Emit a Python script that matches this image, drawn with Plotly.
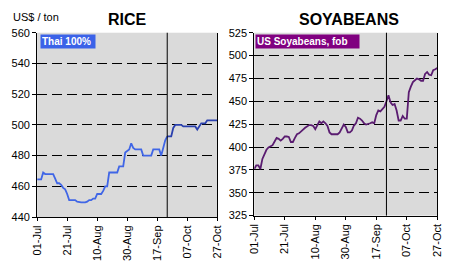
import plotly.graph_objects as go

# ---- data ----
tick_labels = ["01-Jul", "21-Jul", "10-Aug", "30-Aug", "17-Sep", "07-Oct", "27-Oct"]
tick_step = 15  # observations between labels
divider_index = 65  # observation where the vertical marker sits

rice_thai100 = [
    464.5, 464.5, 464.5, 469, 468, 468, 468, 468, 468, 465,
    462, 462, 461, 459, 458, 455, 451, 451, 451, 451,
    450, 449.5, 449.5, 449.5, 449.5, 450, 451, 451, 452, 452,
    455, 455, 455, 457, 460, 460, 469, 469, 469, 469,
    469, 473, 473, 473, 482, 483, 484, 488, 485, 484,
    484, 484, 484, 480, 480, 480, 480, 480, 484, 484,
    484, 484, 480, 485, 490, 492.5, 492.5, 492.5, 498, 500,
    500, 500, 500, 499, 499, 499, 499, 499, 499, 499,
    497, 499, 501, 501, 501, 503, 503, 503, 503, 503,
    503,
]
soy_us_fob = [
    376, 380, 380, 376, 387, 392, 397, 399.5, 401, 402,
    406, 410, 409, 407, 409, 411.5, 411.5, 411, 405.5, 405.5,
    410, 414, 415, 417.5, 419, 421, 423, 424, 424, 423,
    419.5, 424, 428, 426, 428, 426, 423, 416, 414, 414,
    414, 414, 416, 419.5, 424.5, 422, 416, 416, 418, 423.5,
    426, 432, 431, 429, 426, 424.5, 425, 426, 427, 426,
    435, 440, 439, 442, 444, 450, 456.5, 449, 446, 447,
    440, 429, 429, 434, 431, 431, 460, 466, 471, 473,
    475, 474, 472.5, 472.5, 480, 482, 479, 478.5, 484, 485,
    486.5,
]

x = list(range(len(rice_thai100)))
tickvals = [i * tick_step for i in range(len(tick_labels))]

W, H = 454, 266
FONT = "Arial, Liberation Sans, sans-serif"

fig = go.Figure()
fig.add_trace(go.Scatter(x=x[:divider_index + 1], y=rice_thai100[:divider_index + 1],
                         mode="lines", line=dict(color="#4066e6", width=1.8),
                         xaxis="x", yaxis="y", hoverinfo="skip"))
fig.add_trace(go.Scatter(x=x[divider_index:], y=rice_thai100[divider_index:],
                         mode="lines", line=dict(color="#2a40ae", width=1.8),
                         xaxis="x", yaxis="y", hoverinfo="skip"))
fig.add_trace(go.Scatter(x=x, y=soy_us_fob, mode="lines",
                         line=dict(color="#5a1c70", width=1.8),
                         xaxis="x2", yaxis="y2", hoverinfo="skip"))

def xax(dom, anchor):
    return dict(domain=dom, anchor=anchor, range=[0, len(x) - 1],
                tickvals=tickvals, ticktext=tick_labels, tickangle=-90,
                showgrid=False, zeroline=False, showline=True,
                linecolor="black", linewidth=1, ticks="outside", ticklen=3,
                tickcolor="black", tickfont=dict(size=11, color="black", family=FONT))

def yax(dom, anchor, rng, dt):
    return dict(domain=dom, anchor=anchor, range=rng, dtick=dt, tick0=rng[0],
                showgrid=True, gridcolor="black", griddash="10px,5px", gridwidth=1,
                zeroline=False, showline=True, mirror=True, linecolor="black",
                linewidth=1, ticks="outside", ticklen=4, tickcolor="black",
                tickfont=dict(size=11, color="black", family=FONT))

fig.update_layout(
    width=W, height=H, margin=dict(l=0, r=0, t=0, b=0),
    paper_bgcolor="white", plot_bgcolor="#dadada", showlegend=False,
    xaxis=xax([32 / W, 217 / W], "y"),
    yaxis=yax([1 - 221 / H, 1 - 28 / H], "x", [440, 560], 20),
    xaxis2=xax([255 / W, 443 / W], "y2"),
    yaxis2=yax([1 - 219.5 / H, 1 - 28 / H], "x2", [325, 525], 25),
)

for xr, yr in (("x", "y domain"), ("x2", "y2 domain")):
    fig.add_shape(type="line", xref=xr, yref=yr, x0=divider_index, x1=divider_index,
                  y0=0, y1=1, line=dict(color="black", width=1))

ann = [
    dict(text="<b>RICE</b>", x=125 / W, y=1 - 14 / H, size=16),
    dict(text="<b>SOYABEANS</b>", x=352 / W, y=1 - 14 / H, size=16),
]
for a in ann:
    fig.add_annotation(text=a["text"], x=a["x"], y=a["y"], xref="paper", yref="paper",
                       showarrow=False, xanchor="center", yanchor="middle",
                       font=dict(size=a["size"], color="black", family=FONT))
fig.add_annotation(text="US$ / ton", x=5 / W, y=1 - 12 / H, xref="paper", yref="paper",
                   showarrow=False, xanchor="left", yanchor="middle",
                   font=dict(size=11, color="black", family=FONT))
fig.add_annotation(text="<b>Thai 100%</b>", x=35 / W, y=1 - 37.5 / H, xref="paper",
                   yref="paper", showarrow=False, xanchor="left", yanchor="middle",
                   bgcolor="#3b62e8", borderpad=1, width=52, align="left",
                   font=dict(size=10, color="white", family=FONT))
fig.add_annotation(text="<b>US Soyabeans, fob</b>", x=256 / W, y=1 - 37 / H, xref="paper",
                   yref="paper", showarrow=False, xanchor="left", yanchor="middle",
                   bgcolor="#800080", borderpad=1, width=101, align="left",
                   font=dict(size=10, color="white", family=FONT))

fig.write_html("out.html")
